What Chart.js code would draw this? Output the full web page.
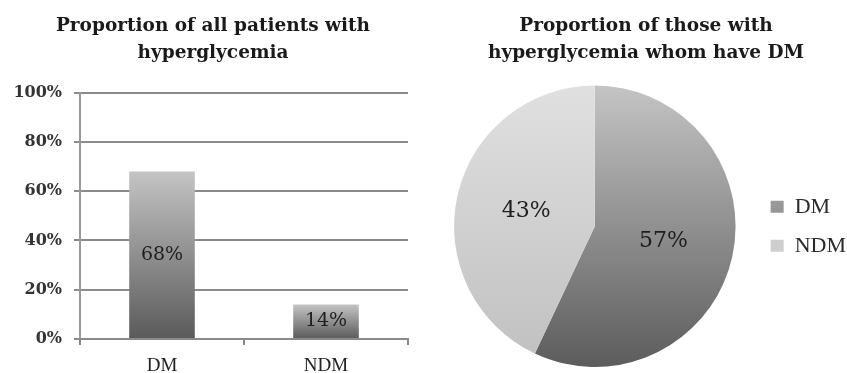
<!DOCTYPE html>
<html>
<head>
<meta charset="utf-8">
<script src="https://cdn.jsdelivr.net/npm/chart.js@4.4.1/dist/chart.umd.min.js"></script>
<style>
  html, body { margin: 0; padding: 0; background: #fff; overflow: hidden; }
  #wrap { position: relative; width: 847px; height: 373px; overflow: hidden; }
  canvas { position: absolute; top: 0; }
  #barCanvas { left: 0; }
  #pieCanvas { left: 420px; }
</style>
</head>
<body>
<div id="wrap">
  <canvas id="barCanvas" width="440" height="373"></canvas>
  <canvas id="pieCanvas" width="452" height="373"></canvas>
</div>
<script>
// Bar chart: share of all patients with hyperglycemia
const barTitle = ['Proportion of all patients with', 'hyperglycemia'];
const barCategories = ['DM', 'NDM'];
const barValues = [68, 14];
const yTicks = [0, 20, 40, 60, 80, 100];

// Pie chart: share of those with hyperglycemia who have DM
const pieTitle = ['Proportion of those with', 'hyperglycemia whom have DM'];
const pieCategories = ['DM', 'NDM'];
const pieValues = [57, 43];

const SERIF = '"Liberation Serif", "DejaVu Serif", serif';
const WIDE_SERIF = '"DejaVu Serif", "Liberation Serif", serif';

// Writes each value as a percentage on its bar or slice
const valueLabels = {
  id: 'valueLabels',
  afterDatasetsDraw(chart, args, opts) {
    const ctx = chart.ctx;
    const meta = chart.getDatasetMeta(0);
    const values = chart.data.datasets[0].data;
    ctx.save();
    ctx.font = opts.font;
    ctx.fillStyle = opts.color;
    ctx.textAlign = 'center';
    ctx.textBaseline = 'middle';
    meta.data.forEach((el, i) => {
      let x, y;
      if (chart.config.type === 'bar') {
        x = el.x;
        y = (el.y + el.base) / 2;
      } else {
        const p = el.tooltipPosition();
        x = p.x; y = p.y;
      }
      ctx.fillText(values[i] + '%', x, y);
    });
    ctx.restore();
  }
};

function barFill(context) {
  const chart = context.chart;
  const area = chart.chartArea;
  if (!area || context.type !== 'data') return '#8c8c8c';
  const yScale = chart.scales.y;
  const top = yScale.getPixelForValue(context.raw);
  const base = yScale.getPixelForValue(0);
  const g = chart.ctx.createLinearGradient(0, top, 0, base);
  g.addColorStop(0, '#c4c4c4');
  g.addColorStop(1, '#5a5a5a');
  return g;
}

new Chart(document.getElementById('barCanvas'), {
  type: 'bar',
  data: {
    labels: barCategories,
    datasets: [{
      data: barValues,
      backgroundColor: barFill,
      borderWidth: 0,
      barPercentage: 0.4,
      categoryPercentage: 1.0
    }]
  },
  options: {
    responsive: false,
    animation: false,
    layout: { padding: { left: 0, right: 14, top: 0, bottom: 0 } },
    plugins: {
      legend: { display: false },
      tooltip: { enabled: false },
      title: {
        display: true,
        text: barTitle,
        color: '#1a1a1a',
        font: { family: WIDE_SERIF, size: 18.5, weight: 'bold', lineHeight: 1.5 },
        padding: { top: 12, bottom: 25 }
      },
      valueLabels: { font: '19px ' + WIDE_SERIF, color: '#1e1e1e' }
    },
    scales: {
      y: {
        min: 0,
        max: 100,
        afterFit(scale) { scale.width = 80; },
        afterBuildTicks(scale) { scale.ticks = yTicks.map(v => ({ value: v })); },
        ticks: {
          padding: 12,
          color: '#333',
          font: { family: WIDE_SERIF, size: 16, weight: 'bold' },
          callback: v => v + '%'
        },
        grid: { color: '#8a8a8a', lineWidth: 2, tickLength: 6 },
        border: { color: '#9a9a9a', width: 2 }
      },
      // empty margin on the right of the plot
      yRight: {
        position: 'right',
        min: 0,
        max: 100,
        afterFit(scale) { scale.width = 18; },
        ticks: { display: false },
        grid: { display: false },
        border: { display: false }
      },
      x: {
        afterFit(scale) { scale.height = 34; },
        grid: { drawOnChartArea: false, drawTicks: true, tickLength: 6, offset: true, color: '#8a8a8a', lineWidth: 2 },
        border: { color: '#8a8a8a', width: 2 },
        ticks: {
          padding: 10,
          color: '#222',
          font: { family: SERIF, size: 19 }
        }
      }
    }
  },
  plugins: [valueLabels]
});

const pieShades = {
  DM: ['#c4c4c4', '#5c5c5c'],
  NDM: ['#e0e0e0', '#c0c0c0']
};

function pieFill(context) {
  const chart = context.chart;
  const area = chart.chartArea;
  const key = pieCategories[context.dataIndex];
  const stops = pieShades[key] || pieShades.DM;
  if (!area) return stops[1];
  const g = chart.ctx.createLinearGradient(0, area.top, 0, area.bottom);
  g.addColorStop(0, stops[0]);
  g.addColorStop(1, stops[1]);
  return g;
}

new Chart(document.getElementById('pieCanvas'), {
  type: 'pie',
  data: {
    labels: pieCategories,
    datasets: [{
      data: pieValues,
      backgroundColor: pieFill,
      borderWidth: 0
    }]
  },
  options: {
    responsive: false,
    animation: false,
    layout: { padding: { left: 16, right: 16, top: 0, bottom: 6 } },
    plugins: {
      tooltip: { enabled: false },
      title: {
        display: true,
        text: pieTitle,
        color: '#1a1a1a',
        font: { family: WIDE_SERIF, size: 18.5, weight: 'bold', lineHeight: 1.5 },
        padding: { top: 12, bottom: 18 }
      },
      legend: {
        position: 'right',
        fullSize: false,
        labels: {
          boxWidth: 13,
          boxHeight: 12,
          padding: 17,
          color: '#2a2a2a',
          font: { family: SERIF, size: 22 }
        }
      },
      valueLabels: { font: '22px ' + WIDE_SERIF, color: '#1e1e1e' }
    }
  },
  plugins: [valueLabels]
});
</script>
</body>
</html>
